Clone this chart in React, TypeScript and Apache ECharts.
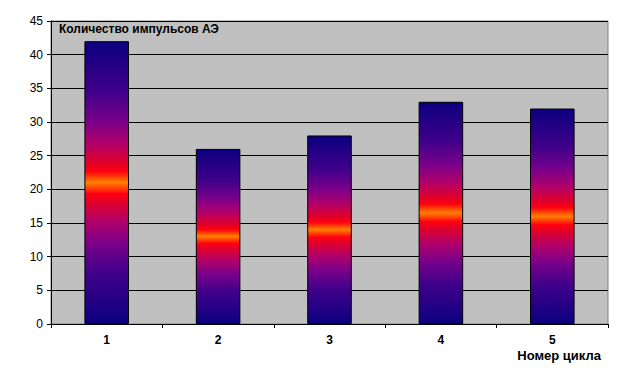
import React, { useEffect, useRef } from "react";
import * as echarts from "echarts";

const categories = ["1", "2", "3", "4", "5"];
const impulses = [42, 26, 28, 33, 32];
const titleText = "Количество импульсов АЭ";
const xName = "Номер цикла";

export default function App() {
  const ref = useRef<HTMLDivElement>(null);
  useEffect(() => {
    document.body.style.margin = "0";
    const chart = echarts.init(ref.current!, undefined, { renderer: "svg" });
    const font = "Arial, 'Liberation Sans', sans-serif";
    const grad = new echarts.graphic.LinearGradient(0, 0, 0, 1, [
      { offset: 0, color: "#0C0080" },
      { offset: 0.18, color: "#40008A" },
      { offset: 0.28, color: "#78008A" },
      { offset: 0.36, color: "#B0006C" },
      { offset: 0.43, color: "#E0002A" },
      { offset: 0.46, color: "#FF0010" },
      { offset: 0.5, color: "#FF8000" },
      { offset: 0.54, color: "#FF0010" },
      { offset: 0.57, color: "#E0002A" },
      { offset: 0.64, color: "#B0006C" },
      { offset: 0.72, color: "#78008A" },
      { offset: 0.82, color: "#40008A" },
      { offset: 1, color: "#0C0080" },
    ]);
    chart.setOption({
      animation: false,
      backgroundColor: "#FFFFFF",
      textStyle: { fontFamily: font },
      title: {
        text: titleText,
        left: 59,
        top: 23,
        padding: 0,
        textStyle: { fontSize: 12, fontWeight: "bold", color: "#000", fontFamily: font },
      },
      grid: {
        left: 51,
        right: 23,
        top: 21,
        bottom: 55,
        show: true,
        backgroundColor: "#C0C0C0",
        borderColor: "#808080",
        borderWidth: 1,
      },
      xAxis: {
        type: "category",
        data: categories,
        boundaryGap: true,
        axisLine: { show: true, lineStyle: { color: "#000", width: 1 } },
        axisTick: { show: true, alignWithLabel: false, length: 4, lineStyle: { color: "#000" } },
        axisLabel: { color: "#000", fontSize: 12, fontWeight: "bold", margin: 10, fontFamily: font },
        splitLine: { show: false },
      },
      yAxis: {
        type: "value",
        min: 0,
        max: 45,
        interval: 5,
        axisLine: { show: true, lineStyle: { color: "#000", width: 1 } },
        axisTick: { show: true, length: 4, lineStyle: { color: "#000" } },
        axisLabel: { color: "#000", fontSize: 12, margin: 8, fontFamily: font },
        splitLine: { show: true, lineStyle: { color: "#000", width: 1 } },
      },
      graphic: [
        {
          type: "text",
          right: 30,
          top: 349,
          style: { text: xName, fill: "#000", font: `bold 13px ${font}` },
        },
      ],
      series: [
        {
          type: "bar",
          data: impulses,
          barWidth: "40%",
          itemStyle: { color: grad, borderColor: "#000", borderWidth: 1 },
        },
      ],
    });
    return () => chart.dispose();
  }, []);
  return <div ref={ref} style={{ width: 631, height: 379 }} />;
}
